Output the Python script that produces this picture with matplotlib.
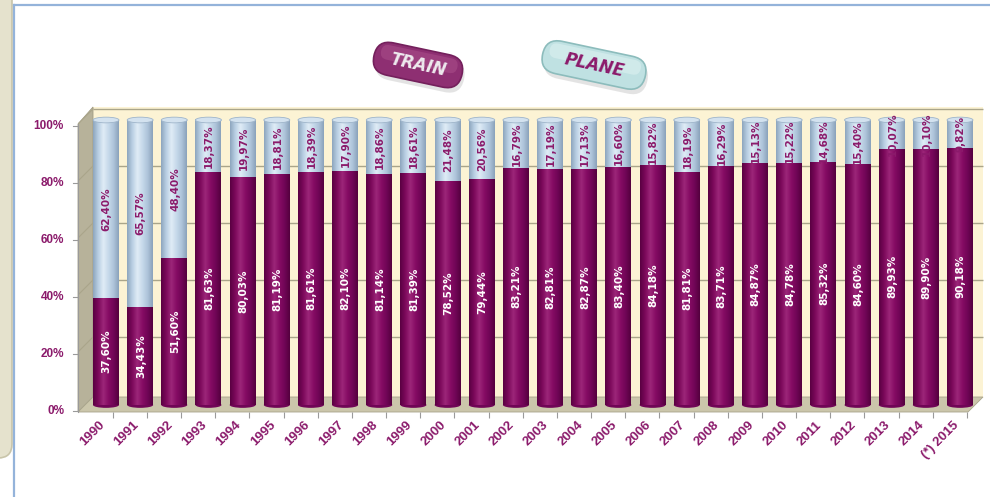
import numpy as np
import matplotlib
matplotlib.use("Agg")
import matplotlib.pyplot as plt
from matplotlib.patches import Polygon, FancyBboxPatch, Ellipse
from matplotlib.transforms import Affine2D, offset_copy

# ---- data -------------------------------------------------------------
years = ["1990", "1991", "1992", "1993", "1994", "1995", "1996", "1997",
         "1998", "1999", "2000", "2001", "2002", "2003", "2004", "2005",
         "2006", "2007", "2008", "2009", "2010", "2011", "2012", "2013",
         "2014", "(*) 2015"]
train = [37.60, 34.43, 51.60, 81.63, 80.03, 81.19, 81.61, 82.10, 81.14,
         81.39, 78.52, 79.44, 83.21, 82.81, 82.87, 83.40, 84.18, 81.81,
         83.71, 84.87, 84.78, 85.32, 84.60, 89.93, 89.90, 90.18]
plane = [62.40, 65.57, 48.40, 18.37, 19.97, 18.81, 18.39, 17.90, 18.86,
         18.61, 21.48, 20.56, 16.79, 17.19, 17.13, 16.60, 15.82, 18.19,
         16.29, 15.13, 15.22, 14.68, 15.40, 10.07, 10.10, 9.82]
y_ticks = [0, 20, 40, 60, 80, 100]
y_tick_labels = ["0%", "20%", "40%", "60%", "80%", "100%"]
legend_labels = ["TRAIN", "PLANE"]

# ---- style ------------------------------------------------------------
W, H = 990, 497
PURPLE_TXT = "#8b1a6b"
TRAIN_GRAD = ["#5a0042", "#7c095b", "#9c2679", "#860c64", "#700556", "#55003e"]
PLANE_GRAD = ["#8ea6be", "#b9cfe3", "#e0ecf6", "#c6d9ea", "#aec4da", "#8aa2bb"]
WALL = "#fcf3d4"
SIDE = "#b7b29a"
FLOOR = "#cbc6ab"
GRID = "#aaa58a"
BAR_W = 0.76

def fmt(v):
    return f"{v:.2f}".replace(".", ",") + "%"

def gradient(colors, n=64):
    stops = np.linspace(0, 1, len(colors))
    rgb = np.array([matplotlib.colors.to_rgb(c) for c in colors])
    t = np.linspace(0, 1, n)
    arr = np.stack([np.interp(t, stops, rgb[:, k]) for k in range(3)], axis=-1)
    return arr[np.newaxis, :, :]

fig = plt.figure(figsize=(W / 100, H / 100), dpi=100)
fig.patch.set_facecolor("white")

# pixel coordinates with the origin at the top-left corner
PX = Affine2D().scale(1 / W, -1 / H).translate(0, 1) + fig.transFigure

# page decoration: side panel and blue frame
fig.add_artist(FancyBboxPatch((-20, -20), 32, 478, boxstyle="round,pad=0,rounding_size=14",
                              transform=PX, facecolor="#e5e2cd", edgecolor="#c9c5aa", lw=1.2))
fig.add_artist(plt.Line2D([14, 990], [5, 5], transform=PX, color="#94b3da", lw=1.6))
fig.add_artist(plt.Line2D([14, 14], [5, 497], transform=PX, color="#94b3da", lw=1.6))

# ---- chart axes: x = category index, y = percent ----------------------
ax_left_px, ax_right_px = 78, 990
ax_top_px, ax_bot_px = 100, 430
ax = fig.add_axes([ax_left_px / W, 1 - ax_bot_px / H,
                   (ax_right_px - ax_left_px) / W, (ax_bot_px - ax_top_px) / H])
ax.axis("off")
x0_px, step_px = 106, 34.16
zero_px, unit_px = 405, 2.85
xlim = ((ax_left_px - x0_px) / step_px, (ax_right_px - x0_px) / step_px)
ylim = ((zero_px - ax_bot_px) / unit_px, (zero_px - ax_top_px) / unit_px)

# back wall, side wall and floor of the 3-D box
ax.add_patch(Polygon([(93, 107), (983, 107), (983, 397), (93, 397)], closed=True,
                     transform=PX, facecolor=WALL, edgecolor="none", zorder=0.5, clip_on=False))
ax.add_patch(Polygon([(78, 124), (93, 107), (93, 397), (78, 412)], closed=True,
                     transform=PX, facecolor=SIDE, edgecolor="#a19c84", lw=0.6, zorder=0.6, clip_on=False))
ax.add_patch(Polygon([(78, 412), (93, 397), (983, 397), (968, 412)], closed=True,
                     transform=PX, facecolor=FLOOR, edgecolor="#a9a48b", lw=0.6, zorder=0.6, clip_on=False))

# gridlines on the back wall
back = offset_copy(ax.transData, fig=fig, x=0, y=11, units="dots")
x_wall = ((93 - x0_px) / step_px, (983 - x0_px) / step_px)
ax.hlines(y_ticks[1:], x_wall[0], x_wall[1], transform=back, color=GRID, lw=1.0, zorder=0.7)
# matching gridlines on the side wall
for v in y_ticks[1:]:
    yb = zero_px - 11 - unit_px * v
    ax.add_line(plt.Line2D([78, 93], [yb + 15, yb], transform=PX, color=GRID, lw=0.8, zorder=0.7))

# ---- bars -------------------------------------------------------------
x = np.arange(len(years))
train_bars = ax.bar(x, train, width=BAR_W, color=TRAIN_GRAD[3], zorder=2)
plane_bars = ax.bar(x, plane, bottom=train, width=BAR_W, color=PLANE_GRAD[3], zorder=2)
g_train = gradient(TRAIN_GRAD)
g_plane = gradient(PLANE_GRAD)
for xi, t, p in zip(x, train, plane):
    l, r = xi - BAR_W / 2, xi + BAR_W / 2
    ax.imshow(g_train, extent=(l, r, 0, t), aspect="auto", zorder=2.1, interpolation="bilinear")
    ax.imshow(g_plane, extent=(l, r, t, t + p), aspect="auto", zorder=2.1, interpolation="bilinear")
    ax.add_patch(Ellipse((xi, t + p), BAR_W, 2.0, facecolor="#d3e2ef", edgecolor="#9fb5ca",
                         lw=0.6, zorder=2.2))
    ax.add_patch(Ellipse((xi, 0), BAR_W, 2.0, facecolor=TRAIN_GRAD[4], edgecolor="none", zorder=2.05))

# value labels inside the bars
for xi, t, p in zip(x, train, plane):
    ax.text(xi + 0.02, t / 2, fmt(t), rotation=90, ha="center", va="center",
            color="white", fontsize=7.5, fontweight="bold", family="DejaVu Sans", zorder=3)
    ax.text(xi + 0.02, t + p / 2, fmt(p), rotation=90, ha="center", va="center",
            color=PURPLE_TXT, fontsize=7.5, fontweight="bold", family="DejaVu Sans", zorder=3)

# ---- front value axis ---------------------------------------------------
front = offset_copy(ax.transData, fig=fig, x=0, y=-6, units="dots")
ax.add_line(plt.Line2D([78, 78], [124, 412], transform=PX, color="#9a9a9a", lw=0.8, zorder=1))
tick_x = (64 - x0_px) / step_px
for v, lab in zip(y_ticks, y_tick_labels):
    ax.text(tick_x, v, lab, transform=front, ha="right", va="center", color=PURPLE_TXT,
            fontsize=8.5, fontweight="bold", family="Liberation Sans")
    ax.plot([xlim[0] - 5 / step_px, xlim[0]], [v, v], transform=front, color="#9a9a9a",
            lw=0.8, clip_on=False)

# category ticks and labels along the front edge of the floor
ax.vlines(x + 0.2, (zero_px - 418) / unit_px, (zero_px - 412) / unit_px,
          color="#9a9a9a", lw=0.8, zorder=1)
for xi, yr in zip(x, years):
    ax.text(xi - 0.22, (zero_px - 419) / unit_px, yr, rotation=45, rotation_mode="anchor",
            ha="right", va="top", color=PURPLE_TXT, fontsize=9.5, fontweight="bold",
            family="Liberation Sans")

ax.set_xlim(*xlim)
ax.set_ylim(*ylim)

# ---- legend pills ---------------------------------------------------------
def pill(cx, cy, w, h, face, edge, light, label, txt_color):
    rot = Affine2D().rotate_deg_around(cx, cy, 12) + PX
    sh = Affine2D().rotate_deg_around(cx, cy, 12).translate(2, 5) + PX
    fig.add_artist(FancyBboxPatch((cx - w / 2, cy - h / 2), w, h,
                                  boxstyle=f"round,pad=0,rounding_size={h / 2}",
                                  transform=sh, facecolor="#d8d8d8", edgecolor="none", alpha=0.7))
    fig.add_artist(FancyBboxPatch((cx - w / 2, cy - h / 2), w, h,
                                  boxstyle=f"round,pad=0,rounding_size={h / 2}",
                                  transform=rot, facecolor=face, edgecolor=edge, lw=1.2))
    fig.add_artist(FancyBboxPatch((cx - w / 2 + 6, cy - h / 2 + 3), w - 12, h * 0.45,
                                  boxstyle=f"round,pad=0,rounding_size={h * 0.22}",
                                  transform=rot, facecolor=light, edgecolor="none", alpha=0.45))
    fig.text(cx / W, 1 - cy / H, label, rotation=-12, ha="center", va="center",
             color=txt_color, fontsize=12, fontweight="bold", style="italic",
             family="Liberation Sans Narrow")

pill(418, 65, 90, 33, "#8e2f72", "#74205c", "#b0568f", legend_labels[0], "#eeeaee")
pill(594, 65, 105, 33, "#bfe1e2", "#8cbcbc", "#e6f5f5", legend_labels[1], "#8b1a6b")

fig.savefig("out.png", dpi=100)
